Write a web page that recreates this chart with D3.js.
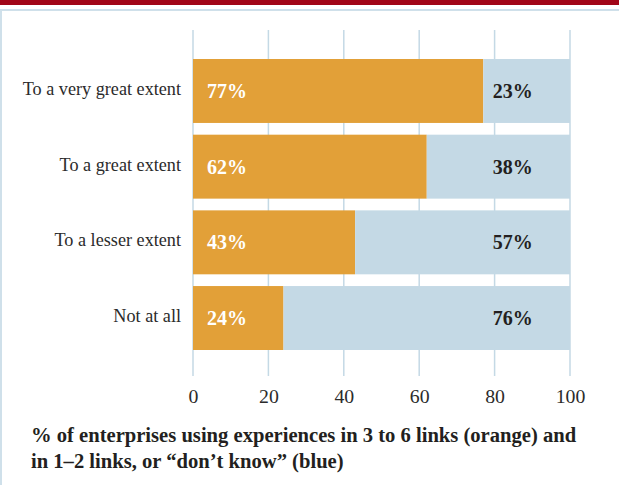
<!DOCTYPE html>
<html>
<head>
<meta charset="utf-8">
<script src="https://cdn.jsdelivr.net/npm/d3@7"></script>
<style>
  html, body { margin: 0; padding: 0; background: #ffffff; }
  svg { display: block; }
</style>
</head>
<body>
<svg id="chart" width="619" height="485"></svg>
<script>
// Share of enterprises by extent of use
const categories = ["To a very great extent", "To a great extent", "To a lesser extent", "Not at all"];
const orangeValues = [77, 62, 43, 24];   // 3 to 6 links
const blueValues = [23, 38, 57, 76];     // 1–2 links, or "don't know"
const tickValues = [0, 20, 40, 60, 80, 100];
const captionLines = [
  "% of enterprises using experiences in 3 to 6 links (orange) and",
  "in 1\u20132 links, or \u201cdon\u2019t know\u201d (blue)"
];

const W = 619, H = 485;
const ORANGE = "#e2a038", BLUE = "#c4d9e5", GRID = "#c4d9e5";
const serif = "'Liberation Serif', 'DejaVu Serif', serif";

const svg = d3.select("#chart");

// page header rule and panel frame
svg.append("rect").attr("x", 0).attr("y", 0).attr("width", W).attr("height", 5).attr("fill", "#a10618");
svg.append("line").attr("x1", 0).attr("x2", W).attr("y1", 10).attr("y2", 10)
  .attr("stroke", "#cfe0ea").attr("stroke-width", 2);
svg.append("line").attr("x1", 1).attr("x2", 1).attr("y1", 10).attr("y2", H)
  .attr("stroke", "#cfe0ea").attr("stroke-width", 2);

const x = d3.scaleLinear().domain([0, 100]).range([193, 570]);
const y = d3.scaleBand().domain(categories).range([59, 350]).paddingInner(0.155).paddingOuter(0);

// vertical gridlines
svg.append("g").selectAll("line").data(tickValues).join("line")
  .attr("x1", d => x(d)).attr("x2", d => x(d))
  .attr("y1", 30).attr("y2", 376)
  .attr("stroke", GRID).attr("stroke-width", 1.5);

// stacked bars
const rows = categories.map((c, i) => ({ c, o: orangeValues[i], b: blueValues[i] }));
const g = svg.append("g");
g.selectAll("rect.o").data(rows).join("rect").attr("class", "o")
  .attr("x", x(0)).attr("y", d => y(d.c))
  .attr("width", d => x(d.o) - x(0)).attr("height", y.bandwidth())
  .attr("fill", ORANGE);
g.selectAll("rect.b").data(rows).join("rect").attr("class", "b")
  .attr("x", d => x(d.o)).attr("y", d => y(d.c))
  .attr("width", d => x(d.o + d.b) - x(d.o)).attr("height", y.bandwidth())
  .attr("fill", BLUE);

// value labels
g.selectAll("text.ol").data(rows).join("text").attr("class", "ol")
  .attr("x", x(0) + 14).attr("y", d => y(d.c) + y.bandwidth() / 2 + 7)
  .attr("font-family", serif).attr("font-weight", "bold").attr("font-size", 20)
  .attr("fill", "#ffffff").text(d => d.o + "%");
g.selectAll("text.bl").data(rows).join("text").attr("class", "bl")
  .attr("x", x(79.5)).attr("y", d => y(d.c) + y.bandwidth() / 2 + 7)
  .attr("font-family", serif).attr("font-weight", "bold").attr("font-size", 20)
  .attr("fill", "#231f20").text(d => d.b + "%");

// category labels
svg.append("g").selectAll("text").data(categories).join("text")
  .attr("x", 181).attr("y", d => y(d) + y.bandwidth() / 2 + 4)
  .attr("text-anchor", "end")
  .attr("font-family", serif).attr("font-size", 18.2).attr("fill", "#2b2b2b")
  .text(d => d);

// bottom axis labels
const axis = d3.axisBottom(x).tickValues(tickValues).tickSize(0).tickPadding(0);
const ax = svg.append("g").attr("transform", "translate(0,389)").call(axis);
ax.select(".domain").remove();
ax.selectAll("text")
  .attr("font-family", serif).attr("font-size", 19.8).attr("fill", "#2b2b2b")
  .attr("dy", "0.71em");

// caption
svg.append("g").selectAll("text").data(captionLines).join("text")
  .attr("x", 31).attr("y", (d, i) => 442 + i * 26)
  .attr("font-family", serif).attr("font-weight", "bold").attr("font-size", 20.6)
  .attr("fill", "#231f20").text(d => d);
</script>
</body>
</html>
